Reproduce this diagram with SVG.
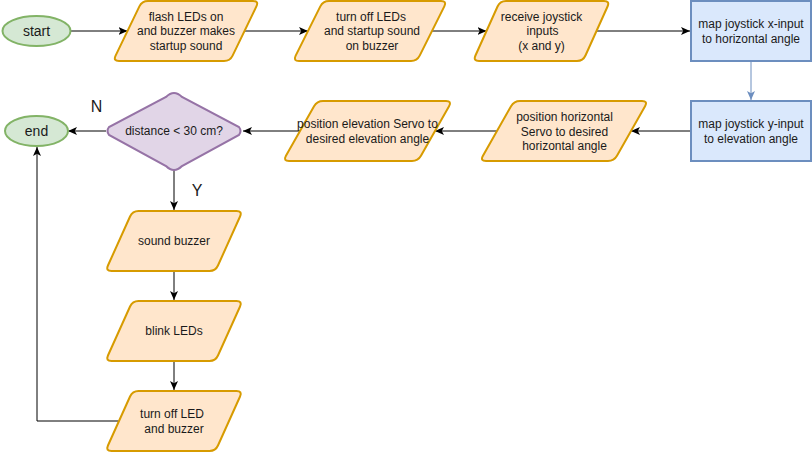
<svg xmlns="http://www.w3.org/2000/svg" width="812" height="452" viewBox="0 0 812 452">
<style>
.t{font-family:"Liberation Sans",Arial,sans-serif;font-size:12px;fill:#1a1a1a;text-anchor:middle}
.t14{font-size:14px}
.t16{font-size:16px}
.io{fill:#ffe6cc;stroke:#d79b00;stroke-width:2}
.term{fill:#d5e8d4;stroke:#82b366;stroke-width:2}
.proc{fill:#dae8fc;stroke:#6c8ebf;stroke-width:2}
.dec{fill:#e1d5e7;stroke:#9673a6;stroke-width:2}
.e{fill:none;stroke:#000;stroke-width:1;marker-end:url(#arr)}
.eb{fill:none;stroke:#6c8ebf;stroke-width:1;marker-end:url(#arrb)}
</style>
<defs>
<marker id="arr" markerUnits="userSpaceOnUse" markerWidth="9" markerHeight="8" viewBox="0 0 9 8" refX="9" refY="4" orient="auto">
<path d="M0,0 L9,4 L0,8 L2.2,4 Z" fill="#000"/>
</marker>
<marker id="arrb" markerUnits="userSpaceOnUse" markerWidth="9" markerHeight="8" viewBox="0 0 9 8" refX="9" refY="4" orient="auto">
<path d="M0,0 L9,4 L0,8 L2.2,4 Z" fill="#6c8ebf"/>
</marker>
<path id="pY" d="M33,0 L131,0 Q137,0 134.54,5.47 L112.46,54.53 Q110,60 104,60 L6,60 Q0,60 2.46,54.53 L24.54,5.47 Q27,0 33,0Z"/>
</defs>

<g id="connectors">
<path class="e" d="M71,31 L127.5,31"/>
<path class="e" d="M244.5,31 L308,31"/>
<path class="e" d="M432,31 L486.5,31"/>
<path class="e" d="M596.5,31 L690,31"/>
<path class="eb" d="M751,62 L751,100"/>
<path class="e" d="M690,131 L631,131"/>
<path class="e" d="M497,131 L435,131"/>
<path class="e" d="M300,131 L243,131"/>
<path class="e" d="M106,131 L68,131"/>
<path class="e" d="M174,170 L174,210"/>
<path class="e" d="M174,271 L174,300"/>
<path class="e" d="M174,361 L174,390"/>
<path class="e" d="M118.5,421 L37,421 L37,147"/>
</g>

<g id="start">
<ellipse class="term" cx="36.5" cy="31" rx="34" ry="15"/>
<text class="t t14" x="36.5" y="36">start</text>
</g>

<g id="flash">
<path class="io" d="M148,1 L253,1 Q259,1 256.39,6.4 L232.61,55.6 Q230,61 224,61 L119,61 Q113,61 115.61,55.6 L139.39,6.4 Q142,1 148,1Z"/>
<text class="t" x="186" y="20.9">flash LEDs on</text>
<text class="t" x="186" y="35.3">and buzzer makes</text>
<text class="t" x="186" y="49.7">startup sound</text>
</g>

<g id="turnoff1">
<path class="io" d="M329,1 L441,1 Q447,1 444.32,6.37 L419.68,55.63 Q417,61 411,61 L299,61 Q293,61 295.68,55.63 L320.32,6.37 Q323,1 329,1Z"/>
<text class="t" x="371" y="20.9">turn off LEDs</text>
<text class="t" x="372" y="35.3">and startup sound</text>
<text class="t" x="372" y="49.7">on buzzer</text>
</g>

<g id="receive">
<path class="io" d="M506,1 L604,1 Q610,1 607.54,6.47 L585.46,55.53 Q583,61 577,61 L479,61 Q473,61 475.46,55.53 L497.54,6.47 Q500,1 506,1Z"/>
<text class="t" x="541.5" y="20.9">receive joystick</text>
<text class="t" x="542.5" y="35.3">inputs</text>
<text class="t" x="541.5" y="49.7">(x and y)</text>
</g>

<g id="mapx">
<rect class="proc" x="691" y="1" width="120" height="60"/>
<text class="t" x="751" y="28.1">map joystick x-input</text>
<text class="t" x="751" y="42.5">to horizontal angle</text>
</g>

<g id="mapy">
<rect class="proc" x="691" y="101" width="120" height="60"/>
<text class="t" x="751" y="128.1">map joystick y-input</text>
<text class="t" x="751" y="142.5">to elevation angle</text>
</g>

<g id="poshoriz">
<path class="io" d="M520,101 L642,101 Q648,101 645.04,106.22 L616.96,155.78 Q614,161 608,161 L486,161 Q480,161 482.96,155.78 L511.04,106.22 Q514,101 520,101Z"/>
<text class="t" x="564.5" y="121.4">position horizontal</text>
<text class="t" x="564.5" y="135.7">Servo to desired</text>
<text class="t" x="564.5" y="150.1">horizontal angle</text>
</g>

<g id="poselev">
<path class="io" d="M323,101 L446,101 Q452,101 449.04,106.22 L420.96,155.78 Q418,161 412,161 L289,161 Q283,161 285.96,155.78 L314.04,106.22 Q317,101 323,101Z"/>
<text class="t" x="367.5" y="128.3">position elevation Servo to</text>
<text class="t" x="367.5" y="142.7">desired elevation angle</text>
</g>

<g id="decision">
<path class="dec" d="M174,93 Q178,93 182,97 L239,127 Q242,131 239,135 L182,166 Q178,170 174,170 Q170,170 166,166 L109,135 Q106,131 109,127 L166,97 Q170,93 174,93Z"/>
<text class="t" x="174" y="135.3">distance &lt; 30 cm?</text>
</g>

<g id="end">
<ellipse class="term" cx="36.5" cy="131" rx="31.5" ry="15"/>
<text class="t t14" x="36.5" y="136">end</text>
</g>

<g id="labels">
<text class="t t16" x="96.5" y="111.5">N</text>
<text class="t t16" x="197" y="196">Y</text>
</g>

<g id="sound">
<use href="#pY" class="io" x="105.5" y="211"/>
<text class="t" x="174" y="245.3">sound buzzer</text>
</g>

<g id="blink">
<use href="#pY" class="io" x="105.5" y="301"/>
<text class="t" x="174" y="335.3">blink LEDs</text>
</g>

<g id="turnoff2">
<use href="#pY" class="io" x="105.5" y="391"/>
<text class="t" x="172" y="418.1">turn off LED</text>
<text class="t" x="174" y="432.5">and buzzer</text>
</g>
</svg>
